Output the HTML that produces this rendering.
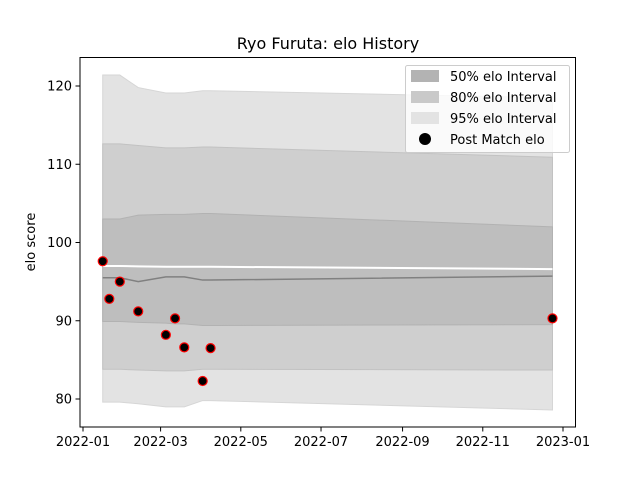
<!DOCTYPE html>
<html><head><meta charset="utf-8"><style>
body{margin:0;background:#fff;font-family:"Liberation Sans","DejaVu Sans",sans-serif}
svg text{font-family:"DejaVu Sans","Liberation Sans",sans-serif}
</style></head><body>
<svg id="c" width="640" height="480" xmlns="http://www.w3.org/2000/svg">
<rect width="640" height="480" fill="#fff"/>
<text x="328" y="49" font-size="16" text-anchor="middle">Ryo Furuta: elo History</text>
<text transform="translate(35,242) rotate(-90)" font-size="13" text-anchor="middle">elo score</text>
<g id="bands"></g><g id="lines"></g><g id="pts"></g><g id="axes"></g>
<g>
<rect x="405.5" y="65.5" width="164" height="87" rx="2" fill="#fff" fill-opacity="0.8" stroke="#ccc"/>
<rect x="411" y="70" width="28" height="12" fill="#b3b3b3"/>
<text x="450" y="81" font-size="13">50% elo Interval</text>
<rect x="411" y="91" width="28" height="12" fill="#c9c9c9"/>
<text x="450" y="102" font-size="13">80% elo Interval</text>
<rect x="411" y="112" width="28" height="12" fill="#e3e3e3"/>
<text x="450" y="123" font-size="13">95% elo Interval</text>
<circle cx="425" cy="139" r="6" fill="#000"/>
<text x="450" y="144" font-size="13">Post Match elo</text>
</g>
</svg>
<script>
const dates=["2022-01-16","2022-01-21","2022-01-29","2022-02-12","2022-03-05","2022-03-12","2022-03-19","2022-04-02","2022-04-08","2022-12-24"];
const p95hi=[121.4,121.4,121.4,119.8,119.1,119.1,119.1,119.4,119.4,118.5];
const p95lo=[79.6,79.6,79.6,79.4,79.0,79.0,79.0,79.8,79.8,78.6];
const p80hi=[112.6,112.6,112.6,112.4,112.1,112.1,112.1,112.2,112.2,110.9];
const p80lo=[83.8,83.8,83.8,83.7,83.6,83.6,83.6,83.8,83.8,83.7];
const p50hi=[103.0,103.0,103.0,103.5,103.6,103.6,103.6,103.7,103.7,102.0];
const p50lo=[89.9,89.9,89.9,89.8,89.7,89.6,89.6,89.4,89.4,89.5];
const meanElo=[95.5,95.5,95.5,95.0,95.6,95.6,95.6,95.2,95.2,95.7];
const whiteLine=[97.0,97.0,97.0,96.95,96.9,96.9,96.9,96.9,96.9,96.6];
const ptDates=["2022-01-16","2022-01-21","2022-01-29","2022-02-12","2022-03-05","2022-03-12","2022-03-19","2022-04-02","2022-04-08","2022-12-24"];
const ptVals=[97.6,92.8,95.0,91.2,88.2,90.3,86.6,82.3,86.5,90.3];
const xTicks=["2022-01","2022-03","2022-05","2022-07","2022-09","2022-11","2023-01"];
const yTicks=[80,90,100,110,120];
const NS="http://www.w3.org/2000/svg";
const t0=Date.UTC(2022,0,1),t1=Date.UTC(2023,0,1);
function X(d){const t=Date.parse(d.length==7?d+"-01":d);return 83+(t-t0)/(t1-t0)*480;}
function Y(v){return 86+(120-v)*7.825;}
function mk(p,tag,a){const e=document.createElementNS(NS,tag);for(const k in a)e.setAttribute(k,a[k]);document.getElementById(p).appendChild(e);return e;}
function band(hi,lo,fill,stroke,name){
 let d="M"+dates.map((t,i)=>X(t)+","+Y(hi[i])).join("L");
 d+="L"+dates.slice().reverse().map((t,j)=>{const i=dates.length-1-j;return X(t)+","+Y(lo[i]);}).join("L")+"Z";
 const e=mk("bands","path",{d:d,fill:fill,stroke:stroke,"stroke-width":1});
 
 
}
band(p95hi,p95lo,"#e3e3e3","#d6d6d6","band-95");
band(p80hi,p80lo,"#cfcfcf","#c2c2c2","band-80");
band(p50hi,p50lo,"#bebebe","#b2b2b2","band-50");
function line(vals,col,w,name){
 const e=mk("lines","polyline",{points:dates.map((t,i)=>X(t)+","+Y(vals[i])).join(" "),fill:"none",stroke:col,"stroke-width":w});
 
 
}
line(whiteLine,"#fff",2,"white-reference-line");
line(meanElo,"#808080",1.5,"mean-elo-line");
ptDates.forEach((t,i)=>{
 const c=mk("pts","circle",{cx:X(t),cy:Y(ptVals[i]),r:4.5,fill:"#000",stroke:"#f00","stroke-width":1.2});
 
 
});
mk("axes","rect",{x:80,y:57.5,width:495.5,height:369.5,fill:"none",stroke:"#000","stroke-width":1});
xTicks.forEach(t=>{
 const x=X(t);
 mk("axes","line",{x1:x,x2:x,y1:427,y2:431.5,stroke:"#000"});
 const e=mk("axes","text",{x:x,y:446,"font-size":13,"text-anchor":"middle"});
 e.textContent=t.replace("-","-");
 
 
});
yTicks.forEach(v=>{
 const y=Y(v);
 mk("axes","line",{x1:75.5,x2:80,y1:y,y2:y,stroke:"#000"});
 const e=mk("axes","text",{x:72,y:y+4.5,"font-size":13,"text-anchor":"end"});
 e.textContent=v;
 
 
});
</script>
</body></html>
